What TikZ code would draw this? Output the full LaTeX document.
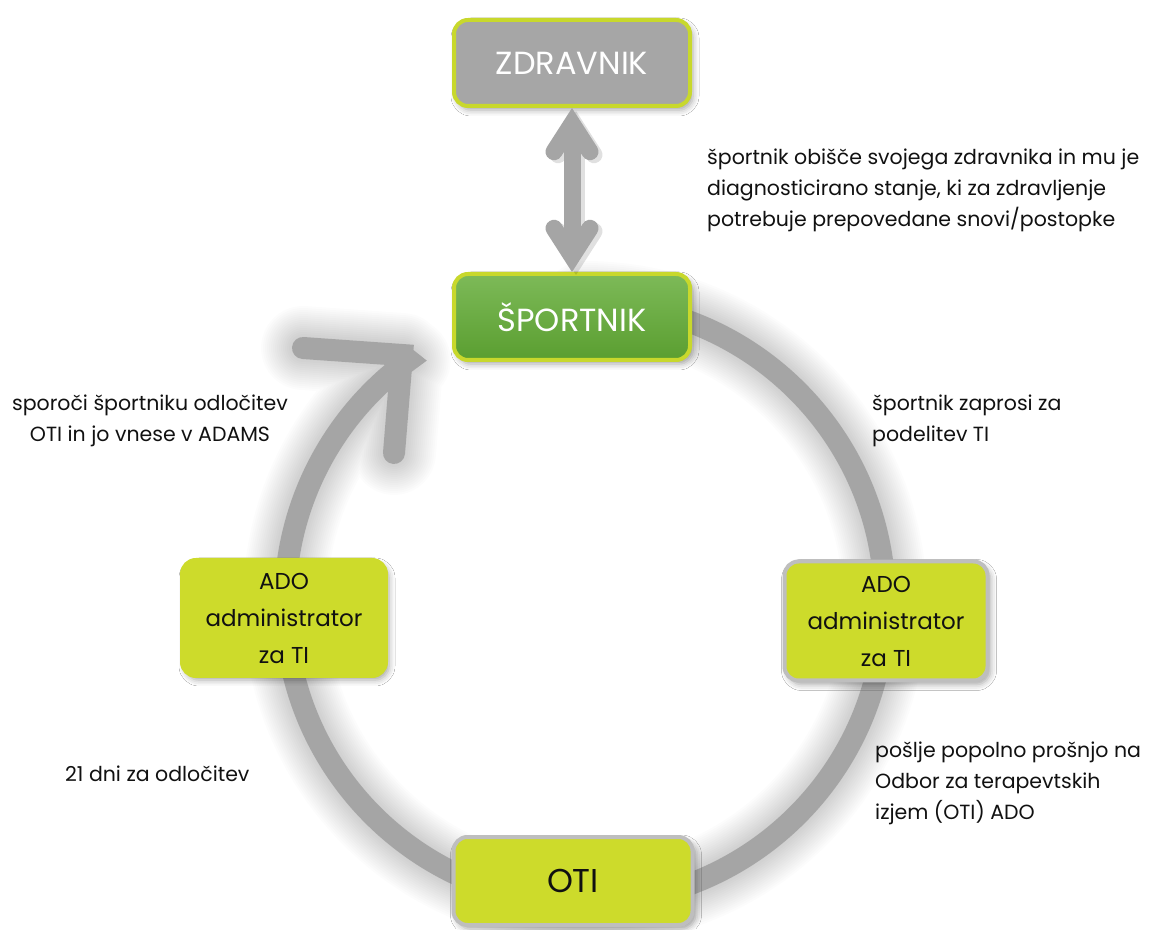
\documentclass[tikz,border=0pt]{standalone}
\usepackage{fontspec}
\setmainfont{Poppins}
\usetikzlibrary{arrows.meta,shadows.blur}
\definecolor{arcgray}{HTML}{A5A5A5}
\definecolor{zdgray}{HTML}{A6A6A6}
\definecolor{limeborder}{HTML}{C8D82C}
\definecolor{adofill}{HTML}{CDDB2B}
\definecolor{gtop}{HTML}{7DBA58}
\definecolor{gbot}{HTML}{5A9E30}
\definecolor{bordergray}{HTML}{BEBEBE}
\definecolor{txt}{HTML}{111111}
\begin{document}
\begin{tikzpicture}[x=1pt,y=1pt,
  box/.style={rounded corners=14pt, line width=4pt, inner sep=0pt, align=center,
     blur shadow={shadow xshift=3pt, shadow yshift=-4pt, shadow blur radius=6pt, shadow opacity=35}},
  bigtext/.style={font=\fontsize{32}{38}\selectfont, text=white},
  adotext/.style={font=\fontsize{23}{37}\selectfont, text=txt},
  note/.style={font=\fontsize{20.5}{31}\selectfont, text=txt, inner sep=0pt},
  ring/.style={line width=22pt, draw=arcgray, line cap=round, line join=miter},
  dbl/.style={line width=17pt, {Straight Barb[length=28pt, width=36pt, line cap=round, line join=miter]}-{Straight Barb[length=28pt, width=36pt, line cap=round, line join=miter]}},
]
\useasboundingbox (0,0) rectangle (1153,929);
\fill[white] (0,0) rectangle (1153,929);

\coordinate (c) at (585,326);
\coordinate (tip) at (402,574);
\coordinate (armA) at (303,581);
\coordinate (armB) at (394,476);
% soft shadow of the ring and its head
\begin{scope}[shift={(9,-4)}, transparency group, opacity=1]
\foreach \w in {24,28,...,84}{
  \draw[line width=\w pt, black, opacity=0.011, line cap=round, line join=round]
    (c) ++(90:300) arc[start angle=90, end angle=-234, radius=300] -- (tip)
    (armA) -- (tip) -- (armB);
}
\end{scope}
% ring with open arrow head
\draw[ring] (c) ++(90:300) arc[start angle=90, end angle=-234, radius=300] -- (tip);
\draw[ring] (armA) -- (tip) -- (armB);

% boxes
\node[box, draw=limeborder, fill=zdgray, minimum width=236pt, minimum height=86pt, bigtext] (zd) at (572,866) {ZDRAVNIK};
\node[box, draw=limeborder, top color=gtop, bottom color=gbot, minimum width=236pt, minimum height=86pt, bigtext] (sp) at (572,612) {ŠPORTNIK};
\node[box, draw=adofill, fill=adofill, minimum width=204pt, minimum height=116pt, adotext] (adol) at (284,311) {ADO\\administrator\\za TI};
\node[box, draw=bordergray, fill=adofill, minimum width=203pt, minimum height=119pt, adotext] (ador) at (886,308) {ADO\\administrator\\za TI};
\node[box, draw=bordergray, fill=adofill, minimum width=239pt, minimum height=88pt, font=\fontsize{33}{38}\selectfont, text=txt] (oti) at (573,48) {OTI};

% double arrow between ZDRAVNIK and ŠPORTNIK
\draw[dbl, black, opacity=0.12] ([shift={(4,-3)}]zd.south) -- ([shift={(4,-3)}]sp.north);
\draw[dbl, draw=arcgray] (zd.south) -- (sp.north);

% notes
\node[note, anchor=north west, align=left] (t1) at (707,780)
  {športnik obišče svojega zdravnika in mu je\\diagnosticirano stanje, ki za zdravljenje\\potrebuje prepovedane snovi/postopke};
\node[note, anchor=north west, align=left] (t2) at (872,534)
  {športnik zaprosi za\\podelitev TI};
\node[note, anchor=north, align=center] (t3) at (150,534)
  {sporoči športniku odločitev\\OTI in jo vnese v ADAMS};
\node[note, anchor=west] (t4) at (65,155) {21 dni za odločitev};
\node[note, anchor=north west, align=left] (t5) at (875,187)
  {pošlje popolno prošnjo na\\Odbor za terapevtskih\\izjem (OTI) ADO};
\end{tikzpicture}
\end{document}
